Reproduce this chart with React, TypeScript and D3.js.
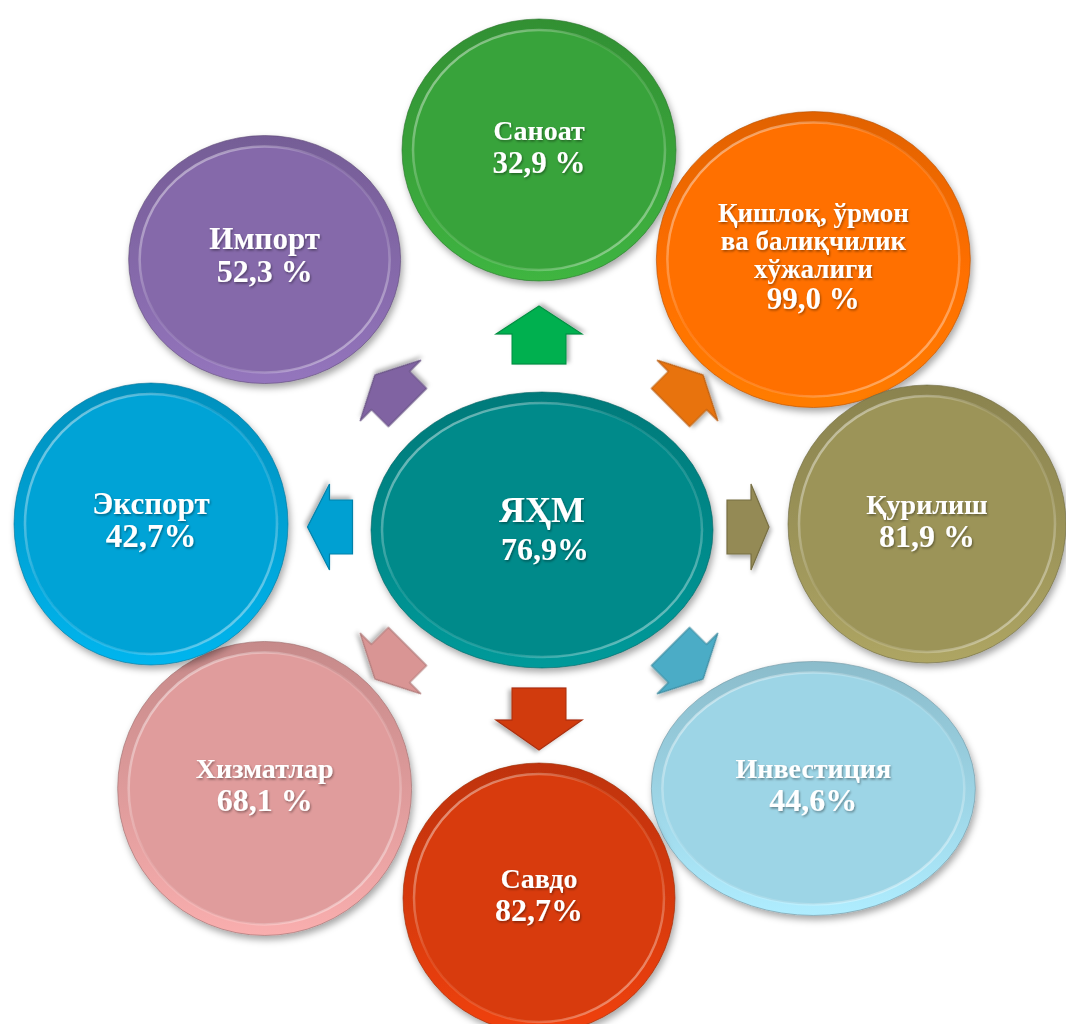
import React from 'react';
import * as d3 from 'd3';

// markaziy ko'rsatkich
const hubLabel = 'ЯҲМ';
const hubValue = 76.9;

// atrofdagi tarmoqlar (soat mili bo'yicha, tepadan boshlab)
const sectors = [
  'Саноат',
  'Қишлоқ, ўрмон\nва балиқчилик\nхўжалиги',
  'Қурилиш',
  'Инвестиция',
  'Савдо',
  'Хизматлар',
  'Экспорт',
  'Импорт'
];
const growth = [32.9, 99.0, 81.9, 44.6, 82.7, 68.1, 42.7, 52.3];
const spacedPct = [true, true, true, false, false, true, false, true];

// ranglar va o'lchamlar
const hubFill = '#008a8a';
const fills = ['#39a33a', '#ff6f00', '#9c9459', '#9dd5e6', '#d83a0a', '#e09c9c', '#05a3d6', '#8569aa'];
const arrowFills = ['#00b050', '#e8730f', '#948a54', '#4bacc6', '#d13a10', '#d99594', '#00a0d2', '#8064a2'];
const nodeRx = [137, 157, 139, 162, 136, 147, 137, 136];
const nodeRy = [131, 148, 139, 127, 135, 147, 141, 124];
const labelSize = [28, 27, 28, 28, 28, 28, 31, 31];
const valueSize = [31, 31, 32, 32, 32, 32, 33, 32];
const arrowLen = [58, 46, 42, 46, 62, 46, 45, 46];
const arrowHead = [28, 22, 18, 22, 30, 22, 22, 22];

const fmt = d3.format('.1f');
const pct = (v, spaced) => fmt(v).replace('.', ',') + (spaced ? ' %' : '%');

const FONT = '"Liberation Serif", "DejaVu Serif", "Times New Roman", serif';

function Bubble({id, cx, cy, rx, ry, color}) {
  const c = d3.color(color);
  const inset = 11;
  return (
    <g filter="url(#shadow)">
      <defs>
        <linearGradient id={`rim-${id}`} x1="0" y1="0" x2="0" y2="1">
          <stop offset="0" stopColor={c.darker(0.35).formatHex()} />
          <stop offset="0.55" stopColor={color} />
          <stop offset="1" stopColor={c.brighter(0.3).formatHex()} />
        </linearGradient>
      </defs>
      <ellipse cx={cx} cy={cy} rx={rx} ry={ry} fill={`url(#rim-${id})`}
        stroke={c.darker(1).formatHex()} strokeOpacity={0.6} strokeWidth={1} />
      <ellipse cx={cx} cy={cy} rx={rx - inset} ry={ry - inset} fill={color}
        stroke="url(#hl)" strokeWidth={2.5} />
    </g>
  );
}

export default function App() {
  const width = 1066;
  const height = 1024;

  const ring = {cx: 539, cy: 524, rx: 388, ry: 374};
  const arrowRing = {cx: 539, cy: 527, rx: 209, ry: 192};
  const hub = {cx: 542, cy: 530, rx: 171, ry: 138};

  const angle = d3.scaleLinear().domain([0, sectors.length]).range([-90, 270]);
  const line = d3.line();

  const nodes = sectors.map((name, i) => {
    const a = angle(i);
    const r = (a * Math.PI) / 180;
    return {
      i,
      a,
      lines: name.split('\n'),
      value: pct(growth[i], spacedPct[i]),
      x: ring.cx + ring.rx * Math.cos(r),
      y: ring.cy + ring.ry * Math.sin(r),
      ax: arrowRing.cx + arrowRing.rx * Math.cos(r),
      ay: arrowRing.cy + arrowRing.ry * Math.sin(r)
    };
  });

  const arrowPath = (L, Hd) => {
    const W = 43, B = 27;
    return line([
      [-L / 2, -B], [L / 2 - Hd, -B], [L / 2 - Hd, -W], [L / 2, 0],
      [L / 2 - Hd, W], [L / 2 - Hd, B], [-L / 2, B]
    ]) + 'Z';
  };

  return (
    <svg width={width} height={height} style={{position: 'absolute', left: 0, top: 0, background: '#fff'}}>
      <defs>
        <filter id="shadow" x="-20%" y="-20%" width="140%" height="140%">
          <feDropShadow dx="2" dy="4" stdDeviation="3.5" floodColor="#000" floodOpacity="0.35" />
        </filter>
        <filter id="ashadow" x="-30%" y="-30%" width="160%" height="160%">
          <feDropShadow dx="2" dy="3" stdDeviation="2" floodColor="#000" floodOpacity="0.3" />
        </filter>
        <filter id="tshadow" x="-10%" y="-30%" width="120%" height="160%">
          <feDropShadow dx="1" dy="1.5" stdDeviation="0.8" floodColor="#000" floodOpacity="0.4" />
        </filter>
        <linearGradient id="hl" x1="0" y1="0" x2="1" y2="1">
          <stop offset="0" stopColor="#fff" stopOpacity="0.6" />
          <stop offset="0.4" stopColor="#fff" stopOpacity="0.1" />
          <stop offset="0.7" stopColor="#fff" stopOpacity="0.15" />
          <stop offset="1" stopColor="#fff" stopOpacity="0.6" />
        </linearGradient>
      </defs>

      {nodes.map(d => (
        <g key={`a${d.i}`} transform={`translate(${d.ax},${d.ay}) rotate(${d.a})`} filter="url(#ashadow)">
          <path d={arrowPath(arrowLen[d.i], arrowHead[d.i])} fill={arrowFills[d.i]}
            stroke={d3.color(arrowFills[d.i]).darker(0.6).formatHex()} strokeWidth={1.2} strokeLinejoin="miter" />
        </g>
      ))}

      {nodes.map(d => (
        <Bubble key={`b${d.i}`} id={d.i} cx={d.x} cy={d.y} rx={nodeRx[d.i]} ry={nodeRy[d.i]} color={fills[d.i]} />
      ))}

      <Bubble id="hub" cx={hub.cx} cy={hub.cy} rx={hub.rx} ry={hub.ry} color={hubFill} />

      {nodes.map(d => {
        const multi = d.lines.length > 1;
        const lh = multi ? 28 : 33;
        const valGap = multi ? 31 : 33;
        // baseline offsets, relative to the first line
        const offs = d.lines.map((_, k) => k * lh);
        const valOff = offs[offs.length - 1] + valGap;
        const mid = valOff / 2;
        const baseY = d.y - 4 - mid + 10;
        return (
          <g key={`t${d.i}`} filter="url(#tshadow)" fontFamily={FONT} fontWeight="bold" fill="#fff" textAnchor="middle">
            {d.lines.map((t, k) => (
              <text key={k} x={d.x} y={baseY + offs[k]} fontSize={labelSize[d.i]}>{t}</text>
            ))}
            <text x={d.x} y={baseY + valOff} fontSize={valueSize[d.i]}>{d.value}</text>
          </g>
        );
      })}

      <g filter="url(#tshadow)" fontFamily={FONT} fontWeight="bold" fill="#fff" textAnchor="middle">
        <text x={hub.cx} y={hub.cy - 8} fontSize={36}>{hubLabel}</text>
        <text x={hub.cx + 3} y={hub.cy + 30} fontSize={32}>{pct(hubValue, false)}</text>
      </g>
    </svg>
  );
}
